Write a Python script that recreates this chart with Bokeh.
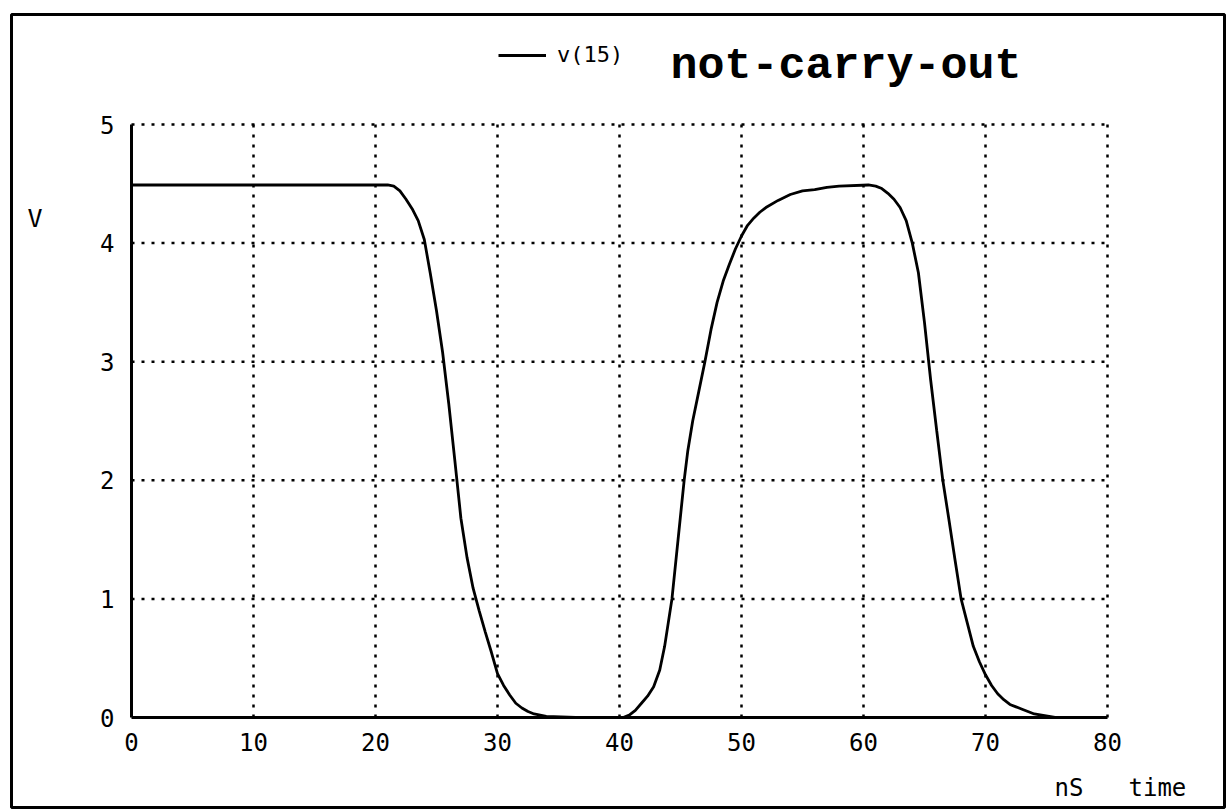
from bokeh.plotting import figure
from bokeh.models import (Range1d, FixedTicker, Label, Legend, LegendItem,
                          BoxAnnotation, LinearAxis)
from bokeh.embed import file_html
from bokeh.resources import INLINE

# ---- data (time in nS, voltage in V) ----
t_fall = [0, 21.0, 21.5, 22.0, 22.5, 23.0, 23.5, 24.0, 24.5, 25.0, 25.5, 26.0,
          26.5, 27.0, 27.5, 28.0, 28.5, 29.0, 29.5, 30.0, 30.5, 31.0, 31.5,
          32.0, 32.5, 33.0, 34.0, 36.4]
v_fall = [4.49, 4.49, 4.48, 4.44, 4.37, 4.29, 4.19, 4.03, 3.74, 3.43, 3.08, 2.65,
          2.17, 1.68, 1.35, 1.09, 0.9, 0.72, 0.55, 0.37, 0.27, 0.19, 0.12,
          0.08, 0.05, 0.03, 0.01, 0.0]

t_pulse = [40.3, 40.8, 41.3, 41.8, 42.3, 42.8, 43.3, 43.7, 44.0, 44.3, 44.8,
           45.3, 45.6, 46.0, 46.5, 47.0, 47.5, 48.0, 48.5, 49.0, 49.5, 50.0,
           50.5, 51.0, 51.5, 52.0, 53.0, 54.0, 55.0, 56.0, 57.0, 58.0, 60.4,
           61.0, 61.5, 62.0, 62.5, 63.0, 63.5, 64.0, 64.5, 65.0, 65.5, 66.0,
           66.5, 67.0, 67.5, 68.0, 68.5, 69.0, 69.5, 70.0, 70.5, 71.0, 71.5,
           72.0, 72.5, 73.0, 74.0, 75.7]
v_pulse = [0.0, 0.02, 0.06, 0.12, 0.18, 0.26, 0.4, 0.6, 0.8, 1.0, 1.5,
           2.0, 2.25, 2.5, 2.75, 3.0, 3.27, 3.5, 3.68, 3.82, 3.95, 4.06,
           4.15, 4.21, 4.26, 4.3, 4.36, 4.41, 4.44, 4.45, 4.47, 4.48, 4.49,
           4.48, 4.46, 4.42, 4.37, 4.3, 4.19, 4.0, 3.75, 3.33, 2.85, 2.42,
           2.0, 1.67, 1.33, 1.0, 0.8, 0.6, 0.47, 0.36, 0.27, 0.2, 0.15,
           0.11, 0.09, 0.07, 0.03, 0.0]

x_ticks = [0, 10, 20, 30, 40, 50, 60, 70, 80]
y_ticks = [0, 1, 2, 3, 4, 5]
series_name = "v(15)"
title_text = "not-carry-out"
y_unit = "V"
x_unit = "nS"
x_name = "time"

W, H = 1226, 811
# pixel placement of the data area inside the canvas
PX_LEFT, PX_RIGHT, PX_TOP, PX_BOTTOM = 131, 1107, 124, 717
XMIN, XMAX = x_ticks[0], x_ticks[-1]
YMIN, YMAX = y_ticks[0], y_ticks[-1]
sx = (PX_RIGHT - PX_LEFT) / (XMAX - XMIN)
sy = (PX_BOTTOM - PX_TOP) / (YMAX - YMIN)

def dx(px):
    return XMIN + (px - PX_LEFT) / sx

def dy(py):
    return YMIN + (PX_BOTTOM - py) / sy

MONO = "DejaVu Sans Mono"

p = figure(width=W, height=H, output_backend="svg", toolbar_location=None,
           x_range=Range1d(dx(0), dx(W)), y_range=Range1d(dy(H), dy(0)),
           x_axis_location=None, y_axis_location=None,
           min_border=0)
p.background_fill_color = "white"
p.border_fill_color = "white"
p.outline_line_color = None
p.grid.visible = False

# dotted grid (from the tick lists)
gx = x_ticks[1:]
gy = y_ticks[1:]
p.segment(x0=gx, x1=gx, y0=[YMIN] * len(gx), y1=[YMAX] * len(gx),
          line_color="black", line_width=2.5, line_dash="3 7")
p.segment(x0=[XMIN] * len(gy), x1=[XMAX] * len(gy), y0=gy, y1=gy,
          line_color="black", line_width=2.5, line_dash="3 7")

r1 = p.line(t_fall, v_fall, line_color="black", line_width=2.8)
r2 = p.line(t_pulse, v_pulse, line_color="black", line_width=2.8)

# axes placed at the data origin
xaxis = LinearAxis(fixed_location=YMIN, bounds=(XMIN, XMAX),
                   ticker=FixedTicker(ticks=x_ticks))
yaxis = LinearAxis(fixed_location=XMIN, bounds=(YMIN, YMAX),
                   ticker=FixedTicker(ticks=y_ticks))
for ax in (xaxis, yaxis):
    ax.axis_line_color = "black"
    ax.axis_line_width = 3
    ax.major_tick_line_color = None
    ax.minor_tick_line_color = None
    ax.major_tick_out = 0
    ax.major_tick_in = 0
    ax.major_label_text_font = MONO
    ax.major_label_text_font_size = "24px"
    ax.major_label_text_color = "black"
xaxis.major_label_standoff = 15
yaxis.major_label_standoff = 17
p.add_layout(xaxis, "below")
p.add_layout(yaxis, "left")

# legend
leg = Legend(items=[LegendItem(label=series_name, renderers=[r1])],
             location=(498, H - 67), border_line_color=None,
             background_fill_alpha=0, padding=0, margin=0, spacing=0,
             glyph_width=48, glyph_height=22, label_height=22,
             label_standoff=11, label_text_font=MONO,
             label_text_color="black", label_text_font_size="22px")
p.add_layout(leg, "center")

# title
p.add_layout(Label(x=dx(670), y=dy(66), text=title_text,
                   text_font="Liberation Mono", text_font_style="bold",
                   text_font_size="45px", text_color="black",
                   text_baseline="alphabetic"))
# unit labels
p.add_layout(Label(x=dx(27), y=dy(218), text=y_unit, text_font=MONO,
                   text_font_size="25px", text_color="black",
                   text_baseline="alphabetic"))
p.add_layout(Label(x=dx(1054), y=dy(787), text=x_unit, text_font=MONO,
                   text_font_size="24px", text_color="black",
                   text_baseline="alphabetic"))
p.add_layout(Label(x=dx(1128), y=dy(787), text=x_name, text_font=MONO,
                   text_font_size="24px", text_color="black",
                   text_baseline="alphabetic"))

# outer frame
p.add_layout(BoxAnnotation(left=dx(11), right=dx(1224), top=dy(14),
                           bottom=dy(807), fill_color=None, fill_alpha=0,
                           line_color="black", line_alpha=1.0, line_width=3))

open("out.html", "w").write(file_html(p, INLINE))
